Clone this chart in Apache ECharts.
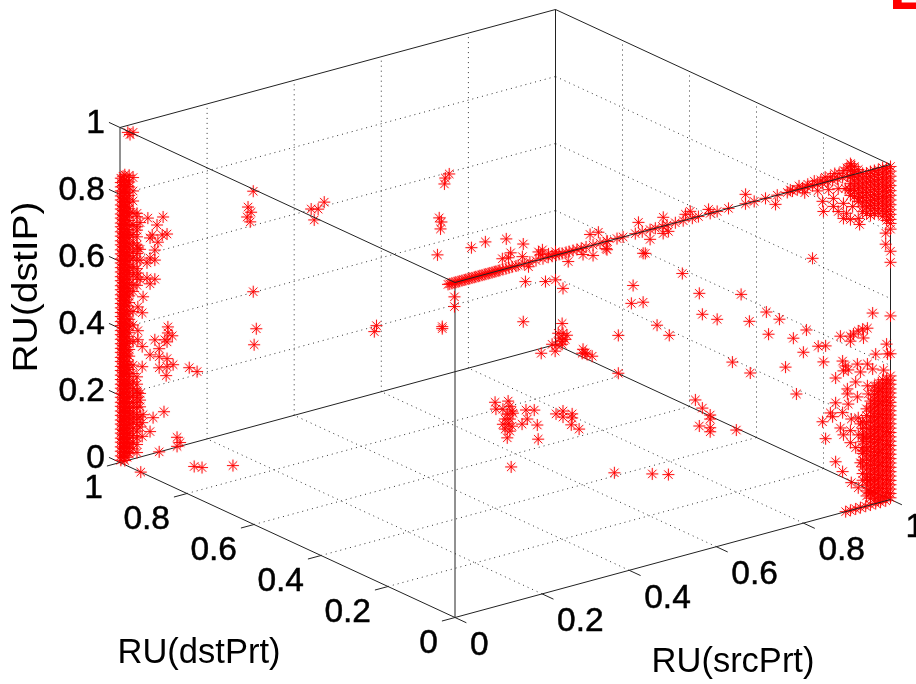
<!DOCTYPE html>
<html><head><meta charset="utf-8">
<style>html,body{margin:0;padding:0;background:#fff}#c{width:916px;height:684px}</style>
<script src="https://cdn.jsdelivr.net/npm/echarts@6/dist/echarts.min.js"></script>
</head><body><div id="c"></div>
<script>
// tick labels and titles
const tickValues = [0, 0.2, 0.4, 0.6, 0.8, 1];
const axisTitles = ['RU(srcPrt)', 'RU(dstPrt)', 'RU(dstIP)'];

// Left wall, dense columns (dstPrt = 1)
const leftColSrc = [0.002, 0.007, 0.011, 0.016, 0.021, 0.030, 0.039, 0.046];
const leftColIP = [
 [.848,.835,.822,.81,.795,.783,.768,.756,.741,.729,.714,.703,.688,.675,.661,.649,.634,.622,.607,.595,.581,.568,.554,.542,.527,.515,.5,.488,.474,.461,.447,.435,.42,.408,.393,.381,.367,.354,.34,.328,.313,.301,.286,.274,.26,.247,.233,.221,.206,.194,.179,.167,.153,.14,.126,.114,.099,.087,.072,.06,.046,.033,.019,.006],
 [.852,.838,.824,.806,.79,.776,.762,.75,.735,.722,.709,.695,.682,.669,.655,.642,.628,.615,.601,.588,.575,.561,.548,.535,.521,.508,.494,.481,.468,.454,.441,.428,.414,.401,.387,.374,.361,.347,.334,.321,.307,.294,.28,.267,.254,.24,.227,.214,.2,.187,.173,.16,.147,.133,.12,.107,.093,.08,.066,.053,.04,.026,.013],
 [.855,.84,.826,.812,.799,.785,.772,.758,.745,.731,.718,.704,.691,.677,.664,.65,.637,.623,.61,.596,.583,.569,.556,.542,.529,.515,.502,.488,.475,.461,.448,.434,.421,.407,.394,.38,.367,.353,.34,.326,.313,.299,.286,.272,.259,.245,.232,.218,.205,.191,.178,.164,.151,.137,.124,.11,.097,.083,.07,.056,.043,.029,.016,.002],
 [.835,.818,.80,.78,.76,.742,.725,.706,.69,.672,.655,.638,.62,.602,.585,.567,.55,.532,.515,.497,.48,.462,.44,.425,.41,.39,.37,.35,.33,.315,.295,.278,.262,.24,.225,.208,.192,.176,.16,.145,.13,.115,.10,.085,.07,.055,.04,.025,.01],
 [.85,.83,.815,.79,.77,.75,.735,.715,.70,.68,.665,.645,.63,.61,.595,.575,.56,.54,.525,.505,.49,.47,.445,.42,.40,.38,.355,.33,.31,.285,.27,.25,.23,.215,.20,.185,.17,.155,.14,.125,.11,.095,.08,.065,.05,.035,.02],
 [.84,.80,.77,.735,.70,.67,.645,.62,.60,.575,.55,.52,.50,.44,.40,.35,.28,.255,.23,.21,.19,.17,.155,.14,.125,.11,.09,.07,.05,.03],
 [.72,.69,.66,.635,.61,.59,.565,.54,.515,.22,.20,.18,.165,.15,.13,.115,.10,.08,.06,.04],
 [.70,.62,.53,.19,.17,.15,.12,.09]
];

// Left wall, scattered points (dstPrt = 1)
const leftSrc = [.064,.099,.039,.085,.069,.074,.097,.108,.087,.080,.069,.080,.046,.062,.041,.062,.080,.069,.039,.041,.053,.051,.041,.041,.041,.051,.110,.080,.103,.108,.120,.110,.090,.069,.090,.108,.122,.090,.108,.106,.051,.159,.177,.039,.041,.101,.076,.053,.051,.069,.051,.039,.090,.131,.138,.131,
 .018,.030,.023,.306,.294,.301,.292,.299,.439,.455,.469,.446,.747,.756,.745,.733,.738,.736,.729,.306,.313,.308,.589,.584,.740,.740,.768,.768,
 .807,.839,.887,.926,.897,.892,.878,.924,.938,.931,.977,1,.966,.961,.970,1,.984,.926];
const leftIP = [.707,.698,.730,.679,.646,.653,.645,.644,.627,.606,.586,.576,.588,.574,.551,.529,.519,.509,.680,.626,.476,.429,.450,.379,.352,.328,.366,.338,.330,.322,.336,.348,.308,.297,.284,.272,.249,.251,.248,.222,.268,.227,.209,.242,.194,.116,.107,.124,.101,.068,.060,.016,0,.029,.011,.002,
 .979,.975,.971,.702,.659,.641,.630,.613,.602,.596,.612,.567,.586,.595,.569,.472,.458,.438,.363,.402,.289,.243,.201,.185,.145,.139,.224,.195,
 .357,.363,.355,.326,.310,.297,.299,.289,.254,.212,.196,.193,.280,.290,.293,.277,.276,.094];

// Right-hand face, scattered points (dstPrt = 0)
const rightSrc = [.248,.260,.294,.317,.349,.347,.448,.432,.437,.522,.478,.490,.736,.409,.405,.432,.375,.464,.492,.375,.561,.657,.568,.602,.676,.715,.745,.720,.777,.637,.678,.759,.784,.807,.800,.834,.851,.821,.552,.568,.586,.586,.561,.586,.586,.646,
 .246,.237,.248,.257,.241,.253,.246,.223,.234,.246,.230,.198,.294,.299,.303,.315,.292,
 .092,.094,.110,.122,.126,.131,.133,.120,.115,.126,.110,.122,.131,.115,.126,.120,.154,.166,.163,.182,.189,.191,.232,.248,.248,.269,.269,.267,.285,.129,.366,.453,.490,
 .959,1,.885,.908,.915,.936,.947,.926,.938,.908,.991,.966,.993,1,.846,.890,.897,.924,.892,.903,.874,.931,.947,.959,.984,.920,.901,.901,.924,.947,.949,.874,.903,.862,.890,.867,.844,.910,.926,.931,.885,.908,.892,.926,.851,.908,.920,.938,.936,.931,.874,.890,.947,.910,.954,.926,
 .989,.989,1,1,1,.844,.869,.846,.869,.892,.892,.926,.929,.913,.899,.880,.908];
const rightIP = [.895,.971,.980,.969,.975,.979,.971,.935,.933,.843,.978,.980,.974,.847,.795,.789,.710,.709,.669,.597,.770,.733,.705,.678,.646,.660,.628,.592,.560,.538,.491,.480,.391,.574,.510,.516,.511,.783,.455,.425,.398,.386,.374,.360,.348,.332,
 .791,.765,.761,.752,.749,.741,.738,.737,.730,.729,.714,.719,.697,.684,.679,.669,.686,
 .610,.589,.583,.603,.586,.570,.563,.565,.552,.548,.538,.535,.525,.522,.512,.494,.523,.534,.562,.555,.508,.465,.526,.529,.511,.513,.501,.481,.462,.404,.303,.269,.254,
 .571,.548,.528,.520,.524,.531,.530,.529,.504,.505,.467,.446,.437,.435,.465,.452,.435,.431,.422,.421,.407,.405,.423,.404,.392,.379,.365,.350,.333,.358,.333,.333,.319,.307,.298,.294,.287,.272,.270,.250,.254,.238,.231,.219,.234,.202,.183,.206,.168,.134,.157,.122,.075,.082,.037,.061,
 .799,.766,.741,.708,.807,.945,.945,.914,.921,.922,.877,.865,.846,.905,.890,.902,.868];

// Points in front of the far faces (dstPrt = 0.3)
const midSrc = [.541,.560,.580,.652,.709,.760,.771,.813,.898];
const midIP = [.814,.814,.780,.811,.806,.797,.802,.793,.808];

// Points along the top edge (dstPrt = 0, dstIP = 1)
const edgeSrc = [-.016,-.012,-.007,-.002,.002,.007,.011,.016,.021,.025,.03,.034,.039,.044,.048,.053,.057,.062,.067,.071,.076,.08,.085,.09,.094,.099,.103,.11,.117,.124,.131,.14,.145,.159,.172,.186,.202,.214,.223,.232,.239,.246,.255,.262,.271,.28,.29,.301,.317,.333,.349,.372,.386,.414,.43,.448,.46,.476,.487,.506,.524,.545,.559,.586,.602,.628,.667,.687,.713,.74,.763,.775,.786,.798,.809,.821,.832,.844,.855,.867,.878,.89,.901,.913];

// Points hugging the top edge near the right corner (dstPrt = 0)
const edgeNearSrc = [.77,.79,.81,.825,.84,.85,.862,.872,.882,.893,.90,.91,.803,.833,.858,.88,.896,.905];
const edgeNearIP = [1.005,1.01,1.008,1.012,1.01,1.015,1.012,1.018,1.015,1.02,1.025,1.03,.985,.98,.975,.97,.965,.96];

// Floor points (dstIP = 0)
const floorSrc = [0,.095,.103,.154,.897,.908,.920,.931,.943,.954,.966,.977,.989];
const floorDst = [.938,.902,.889,.863,0,0,0,0,0,0,0,0,0];

// Right corner, dense lower columns (dstPrt = 0)
const lowerColSrc = [1.0,.991,.982,.972,.963,.954,.945,.936];
const lowerColIP = [
 [.369,.356,.344,.33,.318,.305,.29,.279,.265,.252,.24,.226,.213,.2,.187,.174,.161,.148,.135,.122,.109,.096,.083,.07,.057,.044,.031,.018,.005],
 [.362,.35,.336,.324,.31,.298,.284,.271,.258,.246,.232,.22,.206,.193,.18,.167,.154,.141,.128,.115,.102,.089,.076,.063,.05,.037,.024,.011],
 [.364,.351,.338,.325,.312,.299,.286,.273,.26,.247,.234,.221,.208,.195,.182,.169,.156,.143,.13,.117,.104,.091,.078,.065,.052,.039,.026,.013],
 [.358,.345,.332,.319,.306,.293,.28,.267,.254,.241,.228,.215,.202,.189,.176,.163,.15,.137,.124,.111,.098,.085,.072,.059,.046,.033,.02,.008],
 [.352,.339,.326,.313,.3,.287,.274,.261,.248,.235,.222,.209,.196,.183,.17,.157,.144,.131,.118,.105,.092,.079,.066,.053,.04,.027,.015],
 [.31,.295,.28,.262,.248,.232,.218,.204,.19,.174,.16,.146,.132,.118,.104,.09,.076,.062,.048,.034,.02],
 [.29,.27,.25,.232,.215,.2,.185,.17,.155,.14,.125,.11,.095,.08,.062,.045,.03],
 [.255,.235,.215,.195,.178,.16,.14,.12,.1,.08]
];

// Right corner, dense upper columns (dstPrt = 0)
const upperColSrc = [1.0,.991,.982,.972,.963,.954,.945,.936,.926,.917,.908];
const upperColIP = [
 [.994,.98,.965,.951,.937,.922,.908,.894,.88,.865,.851,.836,.824],
 [.991,.977,.962,.948,.934,.92,.905,.891,.877,.863,.849,.836],
 [.997,.983,.968,.954,.94,.926,.911,.897,.883,.868,.852],
 [.994,.98,.965,.951,.937,.922,.908,.894,.879,.864],
 [.995,.981,.966,.952,.938,.923,.909,.895,.881,.867],
 [.995,.98,.966,.952,.937,.923,.909,.894,.88,.864],
 [.993,.979,.965,.95,.936,.922,.907,.893,.873],
 [.996,.982,.967,.953,.939,.924,.91,.896,.882],
 [1.011,.997,.982,.968,.954,.94,.925,.916],
 [1.023,1.008,.994,.98,.965,.951,.934],
 [1.035,1.015,.995,.975,.955,.94]
];

// Orthographic view of the unit box
const origin = [455, 617.5], ex = [435.5, -118], ey = [-335, -155], ez = [0, -335];
function project(s, d, z) {
  return [origin[0] + s * ex[0] + d * ey[0] + z * ez[0],
          origin[1] + s * ex[1] + d * ey[1] + z * ez[1]];
}

const points = [];
leftColSrc.forEach((s, i) => leftColIP[i].forEach(z => points.push(project(s, 1, z))));
leftSrc.forEach((s, i) => points.push(project(s, 1, leftIP[i])));
rightSrc.forEach((s, i) => points.push(project(s, 0, rightIP[i])));
midSrc.forEach((s, i) => points.push(project(s, 0.3, midIP[i])));
edgeSrc.forEach(s => points.push(project(s, 0, 1)));
edgeNearSrc.forEach((s, i) => points.push(project(s, 0, edgeNearIP[i])));
floorSrc.forEach((s, i) => points.push(project(s, floorDst[i], 0)));
lowerColSrc.forEach((s, i) => lowerColIP[i].forEach(z => points.push(project(s, 0, z))));
upperColSrc.forEach((s, i) => upperColIP[i].forEach(z => points.push(project(s, 0, z))));

const lineSeries = (a, b, style, z) => ({
  type: 'line', data: [a, b], symbol: 'none', silent: true, z: z, clip: false,
  lineStyle: style, animation: false
});
const solid = { color: '#222', width: 1 };
const dotted = { color: '#333', width: 1, type: [1, 4] };
const series = [];

// dotted grid on the far walls and the floor
tickValues.slice(1, 5).forEach(t => {
  series.push(lineSeries(project(t, 1, 0), project(t, 1, 1), dotted, 1));
  series.push(lineSeries(project(1, t, 0), project(1, t, 1), dotted, 1));
  series.push(lineSeries(project(0, 1, t), project(1, 1, t), dotted, 1));
  series.push(lineSeries(project(1, 1, t), project(1, 0, t), dotted, 1));
  series.push(lineSeries(project(t, 0, 0), project(t, 1, 0), dotted, 1));
  series.push(lineSeries(project(0, t, 0), project(1, t, 0), dotted, 1));
});

// box edges behind the markers
[[[0,1,1],[1,1,1]],[[1,1,1],[1,0,1]],[[1,1,0],[1,1,1]],[[0,1,0],[1,1,0]],[[1,1,0],[1,0,0]],
 [[0,0,0],[0,0,1]],[[0,1,0],[0,1,1]],[[1,0,0],[1,0,1]],[[0,1,0],[0,0,0]]].forEach(e =>
  series.push(lineSeries(project(...e[0]), project(...e[1]), solid, 2)));
// box edges drawn over the markers
[[[0,1,1],[0,0,1]],[[0,0,1],[1,0,1]],[[0,0,0],[1,0,0]]].forEach(e =>
  series.push(lineSeries(project(...e[0]), project(...e[1]), solid, 6)));

// tick marks
tickValues.forEach(t => {
  const a = project(t, 0, 0), b = project(t, -0.034, 0);
  series.push(lineSeries(a, b, solid, 2));
  const c = project(0, t, 0), e = project(-0.03, t, 0);
  series.push(lineSeries(c, e, solid, 2));
  const f = project(0, 1, t), g = project(0, 1.033, t);
  series.push(lineSeries(f, g, solid, 2));
});

const tickFont = { fontFamily: 'Liberation Sans', fontSize: 33.5, color: '#000', opacity: 1,
  textBorderColor: '#000', textBorderWidth: 0.5 };
const tickLabelSeries = (data, align) => ({
  type: 'scatter', symbolSize: 0, silent: true, z: 5, clip: false, animation: false,
  data: data,
  label: Object.assign({ show: true, position: 'inside', align: align, verticalAlign: 'middle',
    formatter: p => String(p.data[2]) }, tickFont)
});
series.push(tickLabelSeries(tickValues.map(t => { const p = project(0, 1, t); return [p[0] - 15, p[1] - 4, t]; }), 'right'));
series.push(tickLabelSeries(tickValues.map(t => { const p = project(0, t, 0); return [p[0] - 17, p[1] + 26, t]; }), 'right'));
series.push(tickLabelSeries(tickValues.map(t => { const p = project(t, 0, 0); return [p[0] + 15, p[1] + 28, t]; }), 'left'));

series.push({
  type: 'scatter', data: points, z: 4, clip: false, animation: false, silent: true,
  symbol: 'path://M6 0V12M0 6H12M1.8 1.8L10.2 10.2M1.8 10.2L10.2 1.8',
  symbolSize: 12,
  itemStyle: { color: 'none', borderColor: '#ff0000', borderWidth: 0.9, opacity: 1,
    shadowColor: 'rgba(255,0,0,0.3)', shadowBlur: 1.5 }
});

const font = '34.5px "Liberation Sans"';
const chart = echarts.init(document.getElementById('c'), null, { renderer: 'canvas' });
chart.setOption({
  animation: false,
  backgroundColor: '#fff',
  grid: { left: 0, right: 0, top: 0, bottom: 0 },
  xAxis: { type: 'value', min: 0, max: 916, show: false },
  yAxis: { type: 'value', min: 0, max: 684, inverse: true, show: false },
  series: series,
  graphic: [
    { type: 'text', x: 733, y: 662, style: { text: axisTitles[0], font, fill: '#000', textAlign: 'center', textVerticalAlign: 'middle' } },
    { type: 'text', x: 199, y: 653, style: { text: axisTitles[1], font, fill: '#000', textAlign: 'center', textVerticalAlign: 'middle' } },
    { type: 'text', x: 27, y: 287, rotation: Math.PI / 2, scaleX: 1.13, style: { text: axisTitles[2], font, fill: '#000', textAlign: 'center', textVerticalAlign: 'middle' } },
    { type: 'text', x: 889, y: 22, style: { text: 'E', font: 'bold 60px "Liberation Sans"', fill: '#ff0000', textAlign: 'left', textVerticalAlign: 'bottom' } }
  ]
});
</script></body></html>
